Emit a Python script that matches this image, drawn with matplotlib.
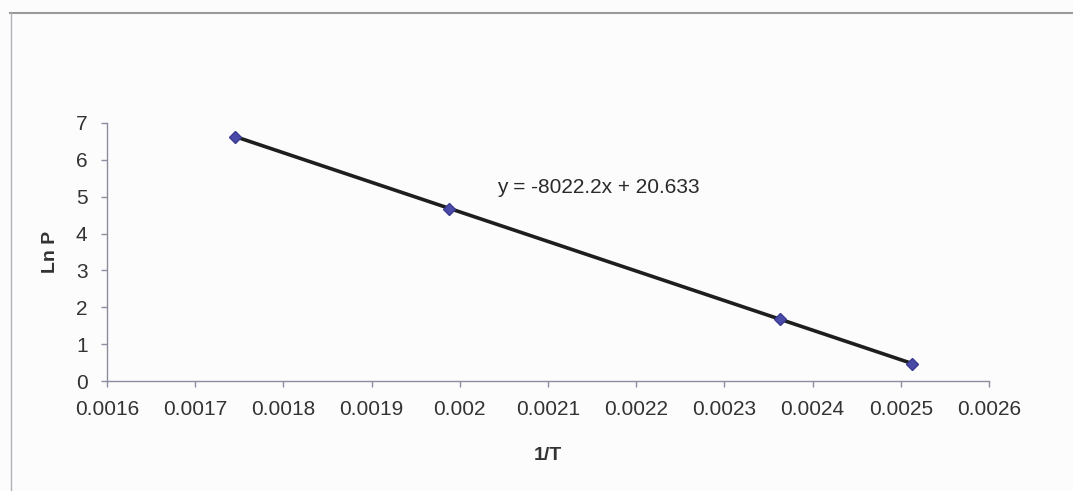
import numpy as np
import matplotlib
matplotlib.use("Agg")
import matplotlib.pyplot as plt
from matplotlib.lines import Line2D

# measured points: inverse temperature vs ln of vapour pressure
inv_T = [0.001745, 0.001988, 0.002363, 0.002513]
ln_P = [6.63, 4.67, 1.67, 0.47]

# linear trend line coefficients
slope = -8022.2
intercept = 20.633

x_ticks = [0.0016, 0.0017, 0.0018, 0.0019, 0.0020, 0.0021,
           0.0022, 0.0023, 0.0024, 0.0025, 0.0026]
x_tick_labels = ["0.0016", "0.0017", "0.0018", "0.0019", "0.002", "0.0021",
                 "0.0022", "0.0023", "0.0024", "0.0025", "0.0026"]
y_ticks = [0, 1, 2, 3, 4, 5, 6, 7]

plt.rcParams['font.family'] = ['Liberation Sans', 'DejaVu Sans']

fig = plt.figure(figsize=(10.73, 4.91), dpi=100)
fig.patch.set_facecolor('#fcfcfc')
ax = fig.add_axes([0.0997, 0.224, 0.822, 0.5255])
ax.set_facecolor('#fcfcfc')

xs = np.array([min(inv_T), max(inv_T)])
ax.plot(xs, slope * xs + intercept, color='#1e1e1e', lw=2.6, zorder=2)
ax.plot(inv_T, ln_P, linestyle='none', marker='D', ms=6.5,
        color='#4a4aa8', mec='#3a3a90', zorder=3)

ax.text(0.002042, 5.26, "y = -8022.2x + 20.633", fontsize=15,
        color='#2a2a2a', ha='left', va='center')

ax.set_xlim(0.0016, 0.0026)
ax.set_ylim(0, 7)
ax.set_xticks(x_ticks)
ax.set_xticklabels(x_tick_labels)
ax.set_yticks(y_ticks)

for side in ['top', 'right']:
    ax.spines[side].set_visible(False)
for side in ['left', 'bottom']:
    ax.spines[side].set_color('#8c8ca0')
    ax.spines[side].set_linewidth(1.0)
ax.tick_params(direction='out', length=4, width=1, color='#8c8ca0',
               labelsize=15, labelcolor='#333333', pad=10)

ax.set_xlabel("1/T", fontsize=14, fontweight='bold', color='#333333', labelpad=20)
ax.set_ylabel("Ln P", fontsize=14, fontweight='bold', color='#333333', labelpad=12)

# chart area border (top and left edges)
fig.add_artist(Line2D([10 / 1073, 1.0], [1 - 13 / 491, 1 - 13 / 491],
                      transform=fig.transFigure, color='#9a9a9a', lw=1.5))
fig.add_artist(Line2D([11 / 1073, 11 / 1073], [0.0, 1 - 13 / 491],
                      transform=fig.transFigure, color='#b0b0b8', lw=1.0))

fig.savefig("out.png", dpi=100, facecolor=fig.get_facecolor())
